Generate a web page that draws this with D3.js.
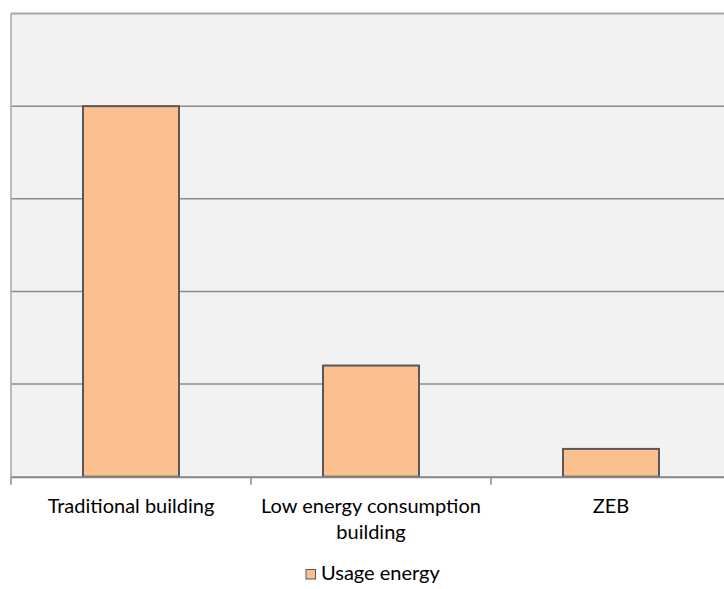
<!DOCTYPE html>
<html>
<head>
<meta charset="utf-8">
<script src="https://cdn.jsdelivr.net/npm/d3@7"></script>
<style>
  html, body { margin: 0; padding: 0; background: #fff; }
  svg { display: block; }
</style>
</head>
<body>
<svg id="chart" width="724" height="589"></svg>
<script>
// Energy use by building type
const categories = ["Traditional building", "Low energy consumption building", "ZEB"];
const usageEnergy = [4.0, 1.2, 0.3];
const yTicks = [0, 1, 2, 3, 4, 5];
const seriesName = "Usage energy";

const svg = d3.select("#chart");
const plot = { left: 11, right: 731, top: 13.5, bottom: 476.7 };
const fontFamily = "Lato, sans-serif";
const fontSize = 20;

const x = d3.scaleBand().domain(categories).range([plot.left, plot.right]).paddingInner(0.6).paddingOuter(0.3);
const y = d3.scaleLinear().domain([0, 5]).range([plot.bottom, plot.top]);

// plot background
svg.append("rect")
  .attr("x", plot.left).attr("y", plot.top)
  .attr("width", plot.right - plot.left).attr("height", plot.bottom - plot.top)
  .attr("fill", "#f2f2f2");

// horizontal gridlines (the top one doubles as the plot border)
const maxTick = yTicks[yTicks.length - 1];
svg.append("g").selectAll("line").data(yTicks.slice(1)).join("line")
  .attr("x1", plot.left).attr("x2", plot.right)
  .attr("y1", d => y(d)).attr("y2", d => y(d))
  .attr("stroke", d => d === maxTick ? "#a6a6a6" : "#8c8c8c")
  .attr("stroke-width", d => d === maxTick ? 2 : 1.5);

// left border
svg.append("line")
  .attr("x1", plot.left).attr("x2", plot.left)
  .attr("y1", plot.top).attr("y2", plot.bottom)
  .attr("stroke", "#a6a6a6").attr("stroke-width", 1.5);

// bars
svg.append("g").selectAll("rect").data(categories).join("rect")
  .attr("x", d => x(d)).attr("width", x.bandwidth())
  .attr("y", (d, i) => y(usageEnergy[i]))
  .attr("height", (d, i) => y(0) - y(usageEnergy[i]))
  .attr("fill", "#fac090").attr("stroke", "#595959").attr("stroke-width", 2);

// category axis
const xAxis = d3.axisBottom(x).tickSize(0).tickFormat("");
svg.append("g").attr("transform", `translate(0,${plot.bottom})`).call(xAxis)
  .call(g => g.select(".domain").attr("stroke", "#868686").attr("stroke-width", 2));

// category boundary ticks
const step = (plot.right - plot.left) / categories.length;
svg.append("g").selectAll("line").data(d3.range(categories.length + 1)).join("line")
  .attr("x1", i => plot.left + i * step).attr("x2", i => plot.left + i * step)
  .attr("y1", plot.bottom).attr("y2", plot.bottom + 8)
  .attr("stroke", "#868686").attr("stroke-width", 1.5);

// category labels (wrapped)
const labelLines = [["Traditional building"], ["Low energy consumption", "building"], ["ZEB"]];
const labels = svg.append("g")
  .attr("font-family", fontFamily)
  .attr("font-size", fontSize).attr("fill", "#000").attr("text-anchor", "middle");
categories.forEach((c, i) => {
  labels.append("text")
    .attr("x", x(c) + x.bandwidth() / 2)
    .attr("y", 512.5)
    .selectAll("tspan").data(labelLines[i]).join("tspan")
    .attr("x", x(c) + x.bandwidth() / 2)
    .attr("dy", (d, j) => j === 0 ? 0 : 26.5)
    .text(d => d);
});

// legend
const legend = svg.append("g").attr("transform", "translate(306,569.5)");
legend.append("rect").attr("x", 0).attr("y", 0).attr("width", 9.5).attr("height", 9.5)
  .attr("fill", "#fac090").attr("stroke", "#595959").attr("stroke-width", 1);
legend.append("text").attr("x", 15).attr("y", 10)
  .attr("font-family", fontFamily)
  .attr("font-size", fontSize).attr("fill", "#000").text(seriesName);
</script>
</body>
</html>
